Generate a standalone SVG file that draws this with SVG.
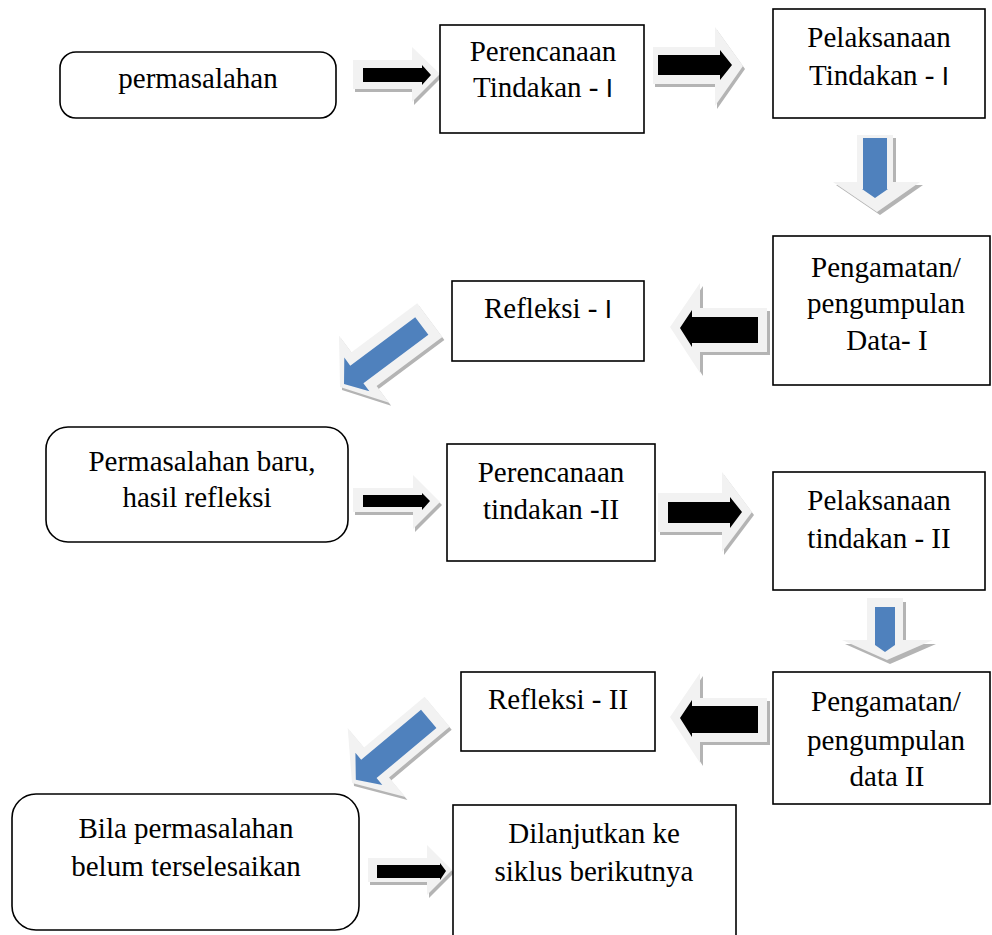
<svg xmlns="http://www.w3.org/2000/svg" width="992" height="935" viewBox="0 0 992 935">
<style>
.box{fill:#fff;stroke:#000;stroke-width:1.6}
.t{font-family:"Liberation Serif","Times New Roman",serif;font-size:29px;fill:#000;text-anchor:middle}
.s{font-family:"Liberation Sans",Arial,sans-serif;font-size:26px}
.out{fill:#f2f2f2}
.sh{fill:#b4b4b4}
.blk{fill:#000}
.blu{fill:#4f81bd}
</style>
<defs>
  <polygon id="d1o" points="-112,-21 -30,-21 -30,-42 0,0 -30,42 -30,21 -112,21"/>
  <polygon id="d2o" points="-111,-19.5 -32,-19.5 -32,-45 0,0 -32,45 -32,19.5 -111,19.5"/>
</defs>
<rect width="992" height="935" fill="#fff"/>

<g id="connectors">
  <g id="a1">
    <polygon class="sh" transform="translate(2,3)" points="353,60 412,60 412,47 440,74 412,102 412,89 353,89"/>
    <polygon class="out" points="353,60 412,60 412,47 440,74 412,102 412,89 353,89"/>
    <polygon class="blk" points="363,68 422,68 422,65 431,75 422,85 422,82 363,82"/>
  </g>
  <g id="a2">
    <polygon class="sh" transform="translate(2,3)" points="653,47 715,47 715,27 743,66 715,106 715,84 653,84"/>
    <polygon class="out" points="653,47 715,47 715,27 743,66 715,106 715,84 653,84"/>
    <polygon class="blk" points="658,55 720,55 720,50 732,65 720,80 720,75 658,75"/>
  </g>
  <g id="a3">
    <polygon class="sh" transform="translate(3,3)" points="857,135 893,135 893,182 920,182 877,212 833,182 857,182"/>
    <polygon class="out" points="857,135 893,135 893,182 920,182 877,212 833,182 857,182"/>
    <polygon class="blu" points="863,138 887,138 887,189 888,189 875,198 862,189 863,189"/>
  </g>
  <g id="a4">
    <polygon class="sh" transform="translate(3,3)" points="767,308 700,308 700,283 670,327 700,373 700,352 767,352"/>
    <polygon class="out" points="767,308 700,308 700,283 670,327 700,373 700,352 767,352"/>
    <polygon class="blk" points="758,317 692,317 692,310 680,328 692,347 692,343 758,343"/>
  </g>
  <g id="a5">
    <g transform="translate(2,3)"><use href="#d1o" class="sh" transform="translate(340,387) rotate(143.3)"/></g>
    <use href="#d1o" class="out" transform="translate(340,387) rotate(143.3)"/>
    <polygon class="blu" transform="translate(340,387) rotate(143.3)" points="-102,-11 -21,-11 -21,-21 -5,0 -21,21 -21,11 -102,11"/>
  </g>
  <g id="a6">
    <polygon class="sh" transform="translate(2,3)" points="353,488 413,488 413,475 440,502 413,529 413,512 353,512"/>
    <polygon class="out" points="353,488 413,488 413,475 440,502 413,529 413,512 353,512"/>
    <polygon class="blk" points="363,495 422,495 422,493 430,501 422,510 422,507 363,507"/>
  </g>
  <g id="a7">
    <polygon class="sh" transform="translate(2,3)" points="658,493 722,493 722,472 752,512 722,552 722,532 658,532"/>
    <polygon class="out" points="658,493 722,493 722,472 752,512 722,552 722,532 658,532"/>
    <polygon class="blk" points="668,502 730,502 730,497 742,512 730,528 730,523 668,523"/>
  </g>
  <g id="a8">
    <polygon class="sh" transform="translate(3,4)" points="867,598 903,598 903,640 933,640 887,660 842,640 867,640"/>
    <polygon class="out" points="867,598 903,598 903,640 933,640 887,660 842,640 867,640"/>
    <polygon class="blu" points="875,607 895,607 895,645 885,652 875,645"/>
  </g>
  <g id="a9">
    <polygon class="sh" transform="translate(3,3)" points="767,698 700,698 700,673 670,717 700,763 700,742 767,742"/>
    <polygon class="out" points="767,698 700,698 700,673 670,717 700,763 700,742 767,742"/>
    <polygon class="blk" points="758,706 692,706 692,700 680,718 692,737 692,733 758,733"/>
  </g>
  <g id="a10">
    <g transform="translate(2,3)"><use href="#d2o" class="sh" transform="translate(352,783) rotate(140.1)"/></g>
    <use href="#d2o" class="out" transform="translate(352,783) rotate(140.1)"/>
    <polygon class="blu" transform="translate(352,783) rotate(140.1)" points="-100,-12 -22,-12 -22,-21 -5,0 -22,21 -22,12 -100,12"/>
  </g>
  <g id="a11">
    <polygon class="sh" transform="translate(2,3)" points="368,858 427,858 427,845 452,870 427,895 427,882 368,882"/>
    <polygon class="out" points="368,858 427,858 427,845 452,870 427,895 427,882 368,882"/>
    <polygon class="blk" points="377,865 440,865 440,863 446,871 440,880 440,878 377,878"/>
  </g>
</g>

<g id="n1">
  <rect class="box" x="60" y="52" width="276" height="66" rx="16"/>
  <text class="t" x="198" y="88">permasalahan</text>
</g>
<g id="n2">
  <rect class="box" x="440" y="25" width="204" height="108"/>
  <text class="t" x="543" y="61">Perencanaan</text>
  <text class="t" x="543" y="97">Tindakan - <tspan class="s">I</tspan></text>
</g>
<g id="n3">
  <rect class="box" x="773" y="9" width="212" height="109"/>
  <text class="t" x="879" y="47">Pelaksanaan</text>
  <text class="t" x="879" y="85">Tindakan - <tspan class="s">I</tspan></text>
</g>
<g id="n4">
  <rect class="box" x="773" y="236" width="217" height="149"/>
  <text class="t" x="886" y="277">Pengamatan/</text>
  <text class="t" x="886" y="313">pengumpulan</text>
  <text class="t" x="887" y="350">Data- I</text>
</g>
<g id="n5">
  <rect class="box" x="452" y="281" width="192" height="80"/>
  <text class="t" x="548" y="318">Refleksi - <tspan class="s">I</tspan></text>
</g>
<g id="n6">
  <rect class="box" x="46" y="427" width="302" height="115" rx="22"/>
  <text class="t" x="202" y="471">Permasalahan baru,</text>
  <text class="t" x="197" y="507">hasil refleksi</text>
</g>
<g id="n7">
  <rect class="box" x="447" y="444" width="208" height="117"/>
  <text class="t" x="551" y="482">Perencanaan</text>
  <text class="t" x="551" y="519">tindakan -II</text>
</g>
<g id="n8">
  <rect class="box" x="773" y="472" width="212" height="118"/>
  <text class="t" x="879" y="510">Pelaksanaan</text>
  <text class="t" x="879" y="548">tindakan - II</text>
</g>
<g id="n9">
  <rect class="box" x="461" y="672" width="194" height="79"/>
  <text class="t" x="558" y="709">Refleksi - II</text>
</g>
<g id="n10">
  <rect class="box" x="773" y="672" width="217" height="132"/>
  <text class="t" x="886" y="711">Pengamatan/</text>
  <text class="t" x="886" y="750">pengumpulan</text>
  <text class="t" x="887" y="786">data II</text>
</g>
<g id="n11">
  <rect class="box" x="12" y="794" width="347" height="136" rx="24"/>
  <text class="t" x="186" y="838">Bila permasalahan</text>
  <text class="t" x="186" y="876">belum terselesaikan</text>
</g>
<g id="n12">
  <rect class="box" x="453" y="805" width="283" height="135"/>
  <text class="t" x="594" y="843">Dilanjutkan ke</text>
  <text class="t" x="594" y="881">siklus berikutnya</text>
</g>
</svg>
